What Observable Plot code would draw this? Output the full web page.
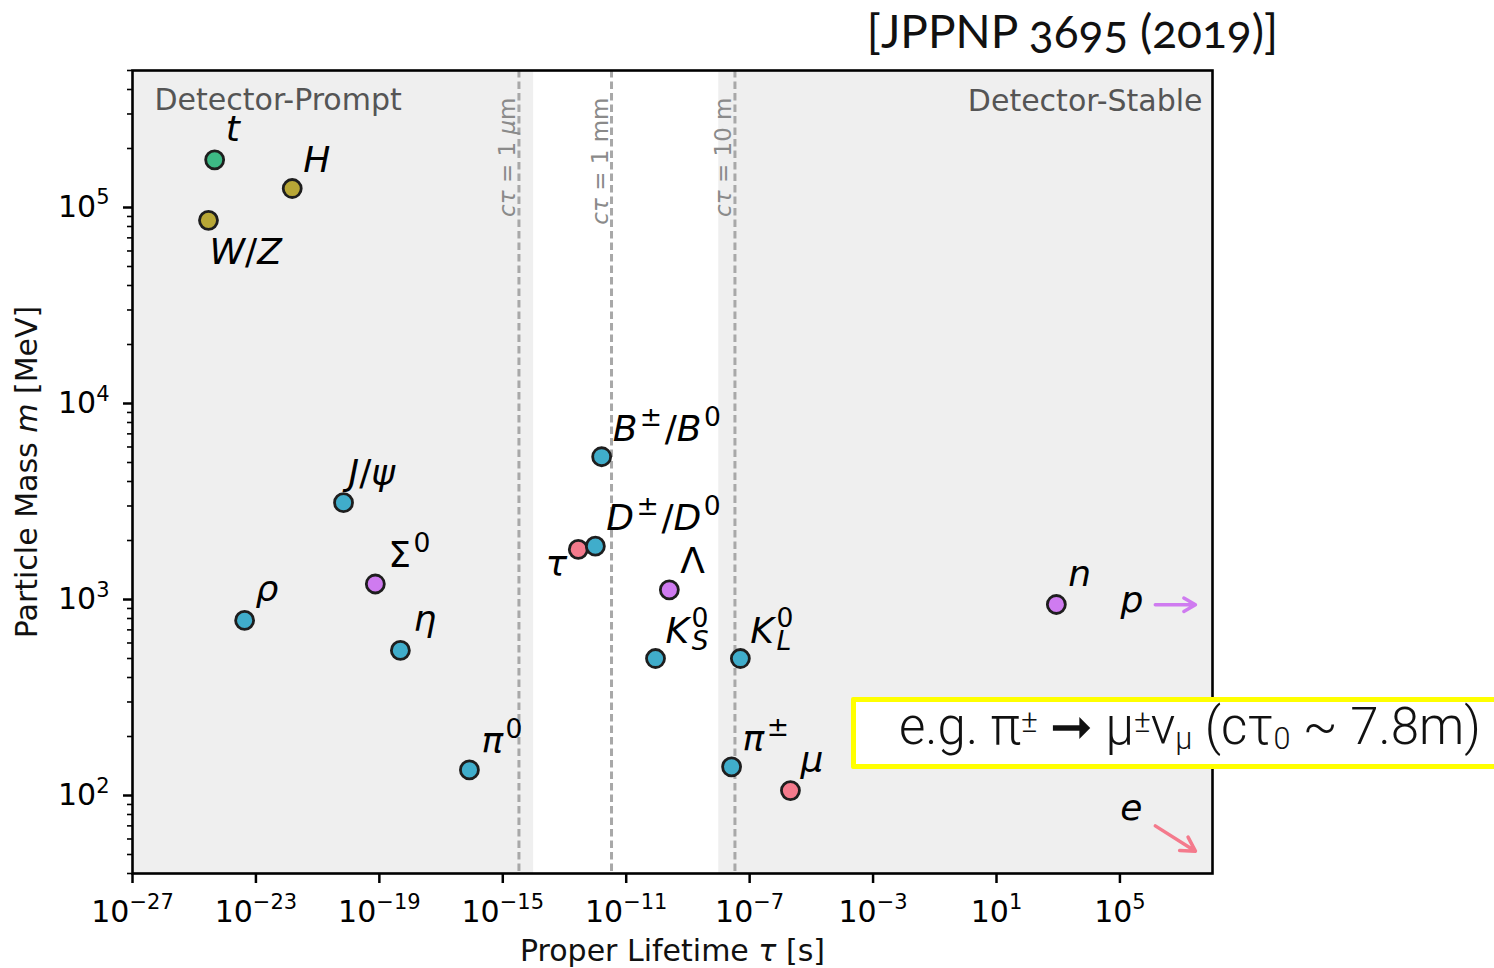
<!DOCTYPE html>
<html>
<head>
<meta charset="utf-8">
<script src="https://cdn.jsdelivr.net/npm/d3@7"></script>
<script src="https://cdn.jsdelivr.net/npm/@observablehq/plot@0.6"></script>
<style>
  html, body { margin: 0; padding: 0; background: #fff; }
  body { width: 1494px; height: 968px; overflow: hidden; position: relative; font-family: "DejaVu Sans", sans-serif; }
  #title { height: 64px; position: relative; }
  #title span { position: absolute; right: 216px; top: 8px; font-family: Lato, "Open Sans", sans-serif; font-size: 46px; line-height: 46px; font-variant-numeric: oldstyle-nums; font-feature-settings: "onum" 1; color: #111; white-space: nowrap; }
  #note { position: absolute; left: 851px; top: 697px; width: 700px; height: 72px; box-sizing: border-box; border: 5px solid #ffff00; border-radius: 2px; background: #fff; font-family: Roboto, "Open Sans", sans-serif; font-weight: 300; font-size: 51px; line-height: 49px; padding-left: 43px; color: #111; white-space: nowrap; }
  #note sup, #note sub { line-height: 0; }
  #note sup { font-size: 0.62em; vertical-align: 0.38em; }
  #note sub { font-size: 0.6em; vertical-align: -0.15em; }
</style>
</head>
<body>
<div id="title"><span>[JPPNP 3695 (2019)]</span></div>
<div id="chart"></div>
<div id="note">e.g. π<sup>±</sup> ➞ μ<sup>±</sup>ν<sub>μ</sub> (cτ<sub>0</sub> ~ 7.8m)</div>
<script>
// ---------------- data ----------------
const particleNames   = ["t", "W/Z", "H", "rho", "J/psi", "Sigma0", "eta", "pi0", "tau", "D", "B", "Lambda", "KS", "KL", "pi+-", "mu", "n"];
const particleLabels  = ["t", "W/Z", "H", "ρ", "J/ψ", "Σ^0", "η", "π^0", "τ", "D^±/D^0", "B^±/B^0", "Λ", "K^0_S", "K^0_L", "π^±", "μ", "n"];
const lifetimeSeconds = [4.6e-25, 2.9e-25, 1.5e-22, 4.3e-24, 6.9e-21, 7.4e-20, 4.8e-19, 8.3e-17, 2.8e-13, 1.0e-12, 1.6e-12, 2.5e-10, 8.9e-11, 5.0e-8, 2.6e-8, 2.1e-6, 870];
const massMeV         = [1.75e5, 8.6e4, 1.25e5, 782, 3120, 1200, 550, 135, 1800, 1870, 5350, 1120, 500, 500, 140, 106, 943];
const particleKinds   = ["top", "boson", "boson", "meson", "meson", "baryon", "meson", "meson", "lepton", "meson", "meson", "baryon", "meson", "meson", "meson", "lepton", "baryon"];

const kindNames  = ["top", "boson", "meson", "baryon", "lepton"];
const kindColors = ["#3db985", "#b8a736", "#40adcb", "#cf7bf0", "#f47a8c"];

// stable particles, drawn as arrows pointing off the chart
const stableLabels   = ["p", "e"];
const stableKinds    = ["baryon", "lepton"];
const stableTauFrom  = [1.4e6, 1.4e6];
const stableTauTo    = [2.8e7, 2.8e7];
const stableMassFrom = [940, 70];
const stableMassTo   = [940, 52];

// detector regions
const regionNames   = ["Detector-Prompt", "Detector-Stable"];
const regionTauFrom = [1e-27, 1e-8];
const regionTauTo   = [1e-14, 1e8];

// decay-length reference lines
const decayLabels = ["$cτ$ = 1 $μ$m", "$cτ$ = 1 mm", "$cτ$ = 10 m"];
const decayTau    = [3.34e-15, 3.34e-12, 3.34e-8];

// axes
const xTickValues = [1e-27, 1e-23, 1e-19, 1e-15, 1e-11, 1e-7, 1e-3, 1e1, 1e5];
const yTickValues = [1e2, 1e3, 1e4, 1e5];
const yMinorTickValues = [40, 50, 60, 70, 80, 90,
  200, 300, 400, 500, 600, 700, 800, 900,
  2000, 3000, 4000, 5000, 6000, 7000, 8000, 9000,
  2e4, 3e4, 4e4, 5e4, 6e4, 7e4, 8e4, 9e4,
  2e5, 3e5, 4e5, 5e5];
const xLabel = "Proper Lifetime $τ$ [s]";
const yLabel = "Particle Mass $m$ [MeV]";

// ---------------- layout (label offsets in px) ----------------
const labelLayout = {
  "t": [11, -19, "start"], "W/Z": [1, 44, "start"], "H": [11, -17, "start"],
  "rho": [11, -19, "start"], "J/psi": [5, -18, "start"], "Sigma0": [13, -17, "start"],
  "eta": [13, -19, "start"], "pi0": [12, -17, "start"], "tau": [-11, 27, "end"],
  "D": [11, -16, "start"], "B": [11, -16, "start"], "Lambda": [11, -17, "start"],
  "KS": [10, -16, "start"], "KL": [10, -16, "start"], "pi+-": [11, -16, "start"],
  "mu": [10, -19, "start"], "n": [12, -18, "start"]
};
const stableLayout = [[-12, 7], [-13, -6]];

const supFmt = v => {
  const e = Math.round(Math.log10(v));
  return "10^{" + String(e).replace("-", "\u2212") + "}";
};

const idx = d3.range(particleNames.length);

const marks = [
  Plot.rect(d3.range(regionNames.length), {x1: i => regionTauFrom[i], x2: i => regionTauTo[i], fill: "#efefef"}),
  Plot.ruleX(d3.range(decayTau.length), {x: i => decayTau[i], stroke: "#a8a8a8", strokeWidth: 3, strokeDasharray: "7.5,4"}),
  Plot.text(d3.range(decayTau.length), {x: i => decayTau[i], text: i => decayLabels[i], frameAnchor: "top", rotate: -90, textAnchor: "end", lineAnchor: "bottom", dx: -4, dy: 27, fill: "#8a8a8a", fontSize: 23}),
  Plot.text([regionNames[0]], {frameAnchor: "top-left", textAnchor: "start", lineAnchor: "bottom", dx: 22, dy: 39, fill: "#555", fontSize: 30}),
  Plot.text([regionNames[1]], {frameAnchor: "top-right", textAnchor: "end", lineAnchor: "bottom", dx: -10, dy: 40, fill: "#555", fontSize: 30}),
  Plot.axisX({ticks: xTickValues, tickFormat: supFmt, tickSize: 10, tickPadding: 17, strokeWidth: 2.5, fontSize: 30, label: null}),
  Plot.axisY({ticks: yMinorTickValues, tickFormat: () => "", tickSize: 5, strokeWidth: 1.6, label: null}),
  Plot.axisY({ticks: yTickValues, tickFormat: supFmt, tickSize: 9, tickPadding: 14, strokeWidth: 2.5, fontSize: 30, label: null}),
  Plot.text([xLabel], {frameAnchor: "bottom", textAnchor: "middle", lineAnchor: "bottom", dy: 87, fontSize: 30, fill: "#111"}),
  Plot.text([yLabel], {frameAnchor: "left", rotate: -90, textAnchor: "middle", lineAnchor: "bottom", dx: -96, fontSize: 30, fill: "#111"}),
  Plot.arrow(d3.range(stableLabels.length), {x1: i => stableTauFrom[i], x2: i => stableTauTo[i], y1: i => stableMassFrom[i], y2: i => stableMassTo[i], stroke: i => stableKinds[i], strokeWidth: 3.5, headLength: 13}),
  ...stableLabels.map((s, i) => Plot.text([i], {x: i => stableTauFrom[i], y: i => stableMassFrom[i], text: i => "$" + stableLabels[i] + "$", textAnchor: "end", lineAnchor: "bottom", dx: stableLayout[i][0], dy: stableLayout[i][1], fontSize: 36, fill: "#000"})),
  Plot.dot(idx, {x: i => lifetimeSeconds[i], y: i => massMeV[i], r: 9, fill: i => particleKinds[i], stroke: "#1e1e1e", strokeWidth: 2.8}),
  ...idx.map(i => {
    const [dx, dy, anchor] = labelLayout[particleNames[i]];
    return Plot.text([i], {x: j => lifetimeSeconds[j], y: j => massMeV[j], text: j => "$" + particleLabels[j] + "$", textAnchor: anchor, lineAnchor: "bottom", dx, dy, fontSize: 36, fill: "#000"});
  }),
  Plot.frame({stroke: "#000", strokeWidth: 2.6})
];

const chart = Plot.plot({
  width: 1494,
  height: 904,
  marginLeft: 132,
  marginRight: 282,
  marginTop: 6,
  marginBottom: 95,
  style: {fontFamily: "DejaVu Sans", fontSize: "30px", background: "transparent", overflow: "visible"},
  x: {type: "log", domain: [1e-27, 1e8]},
  y: {type: "log", domain: [40, 5e5]},
  color: {domain: kindNames, range: kindColors},
  marks
});
document.getElementById("chart").appendChild(chart);

// ---------- rich text (super/subscripts, math italics) ----------
function richify(el) {
  const s = el.textContent;
  if (!/[\$\^_]/.test(s)) return;
  const fs = parseFloat(getComputedStyle(el).fontSize);
  const toks = [];
  let math = false, grp = 0, i = 0;
  const pushChars = (str, role) => {
    for (const ch of str) {
      const it = math && /[A-Za-zα-ωψ]/.test(ch);
      const last = toks[toks.length - 1];
      if (last && last.role === role && last.it === it && last.grp === grp) last.t += ch;
      else toks.push({t: ch, role, it, grp, math});
    }
  };
  while (i < s.length) {
    const c = s[i];
    if (c === "$") { math = !math; i++; continue; }
    if (c === "^" || c === "_") {
      const role = c === "^" ? "sup" : "sub";
      let str;
      if (s[i + 1] === "{") { const j = s.indexOf("}", i + 2); str = s.slice(i + 2, j); i = j + 1; }
      else { str = s[i + 1]; i += 2; }
      grp++; pushChars(str, role); grp++;
      continue;
    }
    pushChars(c, "base");
    i++;
  }
  while (el.firstChild) el.removeChild(el.firstChild);
  const ns = "http://www.w3.org/2000/svg";
  let cur = 0;
  const groups = [];
  const gap = tk => (tk.math ? 0.07 * fs : 0);
  for (const tk of toks) {
    let g = groups[groups.length - 1];
    let dx = 0;
    if (!g || g.id !== tk.grp) {
      if (g && g.role === "sub" && g.stackW != null && g.stackW > g.w) dx += g.stackW - g.w;
      if (g && g.role !== "base" && tk.role === "base") dx += gap(tk);
      const ng = {id: tk.grp, role: tk.role, w: 0, stackW: null};
      if (g && tk.role === "sub" && g.role === "sup") { dx -= g.w; ng.stackW = g.w; }
      else if (g && tk.role === "sup" && g.role === "base") dx += gap(tk);
      groups.push(ng); g = ng;
    }
    const target = tk.role === "sup" ? -0.42 * fs : tk.role === "sub" ? 0.2 * fs : 0;
    const ts = document.createElementNS(ns, "tspan");
    ts.textContent = tk.t;
    if (tk.role !== "base") ts.setAttribute("font-size", ((tk.math ? 0.74 : 0.7) * fs).toFixed(1));
    ts.setAttribute("font-style", tk.it ? "italic" : "normal");
    const dy = target - cur; cur = target;
    if (dy) ts.setAttribute("dy", dy.toFixed(1));
    if (dx) ts.setAttribute("dx", dx.toFixed(1));
    el.appendChild(ts);
    g.w += ts.getComputedTextLength();
  }
}
chart.querySelectorAll("text").forEach(el => richify(el));
</script>
</body>
</html>
